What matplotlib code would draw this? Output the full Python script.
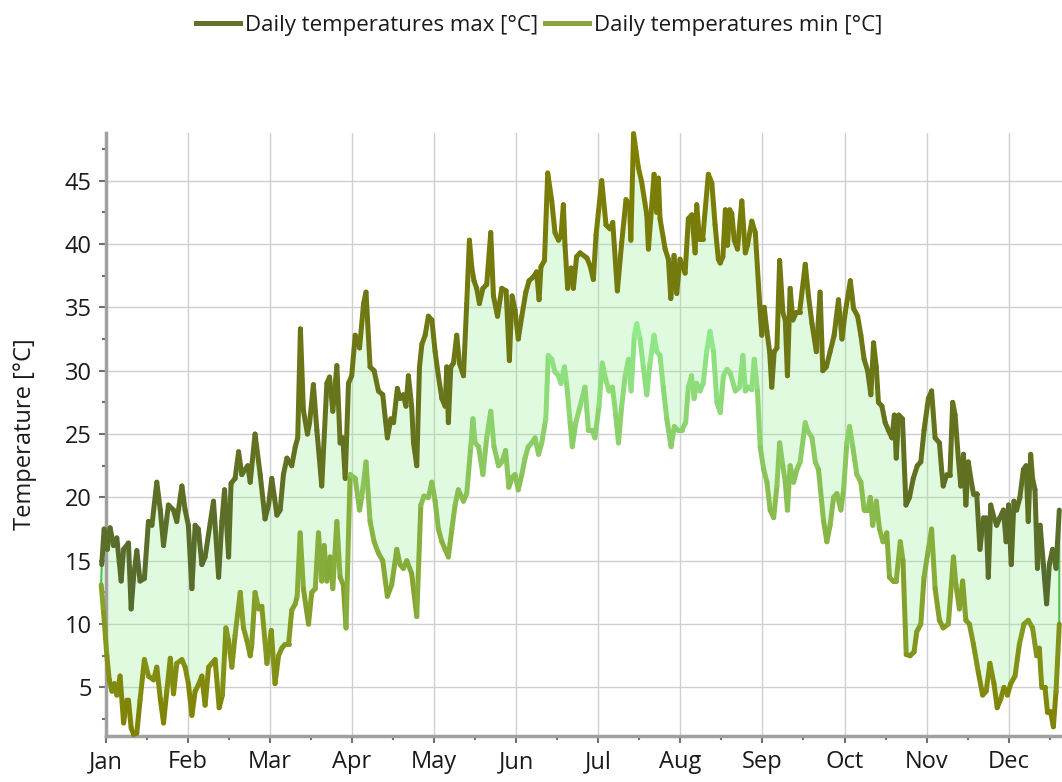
import numpy as np
import matplotlib
matplotlib.use("Agg")
import matplotlib.pyplot as plt
from matplotlib.collections import LineCollection
from matplotlib.colors import LinearSegmentedColormap, Normalize
from matplotlib.lines import Line2D

plt.rcParams['font.family'] = ['Open Sans', 'DejaVu Sans']

months = ["Jan", "Feb", "Mar", "Apr", "May", "Jun",
          "Jul", "Aug", "Sep", "Oct", "Nov", "Dec"]

# daily max (day of year, degC)
max_day = [0.2, 1.1, 2.3, 3.3, 4.6, 5.8, 7.4, 8.3, 10.1, 11.1, 12, 13.2, 14.4, 16, 17.5, 18.8, 20.6, 21.9, 23.1, 24.9,
           26.8, 28, 29.9, 31.1, 32.3, 33.6, 34.8, 36, 37.3, 38.5, 40.4, 41.6, 43.5, 44.7, 45.7, 47.2, 48.1, 49.6, 50.9, 52.1,
           53.3, 54.3, 55.2, 57, 58.9, 60.7, 62, 63.2, 65.1, 66.3, 67.5, 68.8, 70.6, 71.9, 72.8, 73.8, 74.9, 76.4, 77.2, 78.6,
           79.9, 81.7, 83.6, 84.6, 85.8, 87.3, 88.5, 89.5, 90.4, 91.6, 92.8, 94.1, 95.7, 97.2, 98.1, 99.6, 101.1, 102.7, 104.3, 106,
           107.3, 108.3, 109.7, 110.7, 111.9, 112.9, 113.8, 115, 115.7, 116.9, 117.9, 118.8, 120, 121.2, 122.5, 123.7, 124.9, 126.2, 127.4, 128,
           128.6, 129.5, 130.5, 131.7, 132.7, 134.2, 135.4, 136.4, 137.3, 138.1, 139.1, 140.1, 141.4, 142.8, 144.3, 145.3, 146.8, 148.4, 150, 151.2,
           152.2, 153.3, 154.5, 155.8, 157.3, 158.5, 160.1, 161.3, 162.2, 162.9, 164.2, 165.4, 166.9, 168.1, 169.4, 170.3, 171.2, 171.8, 172.8, 174.1,
           174.9, 176.1, 177.4, 179.9, 181.1, 182.3, 183.3, 185.4, 187, 188.5, 189.5, 191.2, 192.8, 194.4, 195.7, 196.2, 197.2, 199, 200.2, 202.1,
           202.7, 204.8, 205.8, 206.4, 207, 208.9, 210.1, 211, 212.2, 213.2, 214.4, 216.3, 217.5, 218.8, 220, 220.6, 221.6, 222.8, 224.9, 226.2,
           227.4, 228.6, 229.3, 230.3, 231.2, 232, 232.8, 233.6, 234.5, 235.7, 237.3, 238.6, 239.4, 241, 242.3, 243.9, 244.7, 245.6, 246.6, 247.6,
           248.4, 249.3, 250.3, 251.3, 252.5, 253.4, 254.2, 255.2, 256.2, 257.5, 258.7, 260.8, 262, 263.3, 264.9, 266.3, 267.3, 268.6, 270, 271.5,
           273.1, 274.4, 275.6, 277.5, 278.7, 280.2, 281.4, 282.6, 283.9, 285.1, 286.1, 287.1, 287.9, 289.2, 290.4, 291.6, 292.9, 293.8, 294.5, 295.4,
           296.8, 298.1, 299.4, 300.8, 302.3, 303.6, 304.8, 306.4, 307.6, 308.9, 310.5, 311.3, 311.9, 313.2, 314.4, 315.4, 316.3, 317.5, 318.4, 319.4,
           320.3, 321.2, 322.1, 323.1, 324.3, 325.5, 326.8, 327.8, 328.6, 329.5, 330.7, 331.7, 332.9, 334.2, 335.2, 336.1, 337.1, 338.1, 339.1, 340.3,
           341.6, 342.6, 343.4, 344.3, 345, 345.9, 346.8, 347.8, 349, 350.2, 351.2, 352.4, 353.7, 354.9]
max_val = [14.7, 17.5, 15.9, 17.6, 16.2, 16.8, 13.4, 15.9, 16.4, 11.2, 13.7, 15.8, 13.4, 13.6, 18.1, 17.8, 21.2, 19.0, 16.2, 19.4,
           19.0, 18.1, 20.9, 19.0, 17.8, 12.8, 17.8, 17.5, 14.7, 15.3, 18.0, 19.7, 13.7, 18.1, 20.6, 15.3, 21.1, 21.5, 23.6, 21.8,
           22.2, 22.5, 21.2, 25.0, 21.8, 18.3, 19.4, 21.5, 18.6, 19.0, 21.8, 23.1, 22.5, 24.0, 24.7, 33.3, 26.9, 25.0, 25.9, 28.9,
           25.3, 20.9, 29.0, 29.5, 26.8, 30.4, 24.3, 24.7, 21.5, 29.0, 29.6, 32.8, 31.8, 35.3, 36.2, 30.3, 30.0, 28.4, 28.1, 24.7,
           26.2, 25.9, 28.6, 27.8, 28.1, 27.2, 29.6, 27.2, 24.3, 22.5, 30.3, 32.1, 32.8, 34.3, 34.0, 31.5, 29.6, 27.8, 27.2, 30.3,
           25.9, 30.3, 30.6, 32.8, 30.6, 29.6, 35.3, 40.3, 38.1, 37.1, 36.5, 35.3, 36.5, 36.8, 40.9, 35.9, 34.3, 36.5, 36.3, 30.8,
           35.9, 34.8, 32.5, 34.3, 36.2, 37.1, 37.4, 37.8, 35.6, 38.2, 38.7, 45.6, 43.4, 40.9, 40.3, 40.6, 43.1, 39.9, 36.5, 38.1,
           36.5, 39.0, 39.3, 38.9, 38.3, 37.2, 40.7, 45.0, 41.5, 41.2, 41.7, 36.3, 40.1, 43.5, 43.1, 40.3, 48.7, 46.0, 44.9, 42.3,
           39.6, 45.5, 42.5, 45.2, 42.0, 39.6, 38.8, 35.7, 39.1, 36.1, 38.8, 37.7, 42.0, 42.3, 39.3, 43.1, 40.4, 40.4, 45.5, 44.8,
           41.5, 38.8, 38.5, 39.0, 42.7, 39.9, 42.7, 42.4, 40.3, 39.6, 43.4, 39.3, 39.9, 41.8, 40.9, 35.3, 32.8, 35.0, 33.1, 31.5,
           28.7, 31.5, 31.8, 38.7, 34.6, 34.0, 29.6, 36.5, 34.0, 34.6, 34.6, 38.4, 35.9, 33.7, 31.5, 36.2, 30.0, 30.3, 31.5, 32.8,
           35.6, 32.5, 34.6, 37.1, 34.9, 34.3, 32.8, 30.9, 30.0, 28.1, 32.2, 30.3, 27.5, 27.2, 25.9, 25.3, 24.7, 26.5, 23.1, 26.5,
           26.2, 19.4, 20.0, 21.5, 22.5, 22.8, 25.3, 27.8, 28.4, 24.7, 24.3, 22.2, 20.9, 21.8, 21.8, 27.5, 26.5, 23.1, 20.9, 23.4,
           19.4, 22.8, 21.5, 20.3, 20.3, 15.9, 18.4, 18.4, 13.7, 19.4, 18.4, 17.8, 18.4, 19.0, 16.5, 19.4, 14.7, 19.7, 19.0, 20.0,
           22.2, 22.5, 18.1, 23.4, 21.5, 20.6, 14.4, 17.8, 14.7, 11.6, 14.7, 15.9, 14.4, 19.0]

# daily min
min_day = [0, 0.9, 2.1, 3, 4, 4.9, 5.8, 7, 8.3, 9.5, 10.1, 11.1, 12, 13.2, 14.4, 16, 17.5, 19.4, 20.6, 21.9,
           23.1, 24.3, 25.6, 26.8, 28, 29.9, 31.1, 32.3, 33.6, 34.8, 36, 37.3, 38.5, 39.8, 41, 42.2, 43.7, 44.9, 46.2, 47.2,
           48.4, 49.6, 51.5, 52.7, 54, 55.2, 55.8, 57, 58.3, 59.5, 61.4, 63, 64.4, 65.7, 66.9, 68.1, 69.4, 70.6, 71.9, 72.6,
           73.7, 74.9, 76.8, 78, 79.3, 80.5, 81.7, 82.6, 83.6, 84.8, 85.8, 87.3, 88.5, 89.7, 90.7, 92.2, 94.1, 95.7, 96.5, 98.1,
           99.6, 101.1, 102.7, 104.3, 106, 107.6, 109.5, 110.7, 111.9, 113.2, 115, 116.9, 118.4, 119.6, 121.2, 122.5, 123.7, 124.9, 126.2, 127.4,
           128.6, 129.9, 131.1, 132.3, 134.2, 135.4, 136.9, 137.7, 138.5, 139.8, 141.4, 142.8, 144.3, 145.5, 147.2, 148.4, 149.8, 151, 152.3, 153.3,
           154.5, 155.8, 157, 158.2, 159.5, 160.7, 162, 163.2, 164.7, 165.6, 166.9, 168.1, 169.4, 170.3, 171.6, 172.4, 173.7, 174.5, 175.8, 177.4,
           179.2, 180.5, 181.9, 182.9, 184.4, 185.6, 186.9, 188.1, 189.4, 190.6, 191.6, 192.8, 194.1, 195.3, 196.3, 197.5, 198.4, 199.6, 200.8, 202.1,
           203.3, 204.8, 205.8, 207, 208.2, 209.5, 211.1, 212.3, 213.6, 215, 216.5, 217.5, 218.7, 219.6, 220.6, 221.8, 223, 224.3, 225.5, 226.8,
           228.1, 229.3, 230.5, 231.8, 233, 234.9, 236.5, 237.7, 238.6, 239.8, 241, 241.9, 243.1, 244.1, 245.4, 246.6, 247.8, 249.1, 250.3, 251.3,
           252.5, 253.4, 254.2, 255.2, 256.5, 257.7, 258.9, 260.8, 261.6, 263.3, 264.5, 265.7, 267.6, 268.8, 270, 271.3, 272.5, 274, 275, 276.2,
           277.2, 278.4, 279.9, 281.4, 282.6, 283.9, 284.9, 285.8, 287.1, 288.3, 289.6, 291, 292, 293.3, 294.5, 296, 297, 298.2, 299.6, 301.1,
           302.1, 303.6, 304.8, 306.4, 307.6, 308.9, 310.5, 311.9, 313.8, 315.7, 316.6, 317.9, 319.1, 320.3, 321.6, 323.1, 324.9, 326.5, 327.8, 329.2,
           330.7, 331.9, 333.2, 334.4, 335.7, 336.9, 338.5, 340.1, 341.8, 343.4, 345, 346.5, 347.5, 348.4, 349.6, 350.5, 351.7, 352.7, 353.7, 354.9]
min_val = [13.1, 10.9, 7.5, 5.6, 4.7, 5.3, 4.4, 5.9, 2.2, 4.0, 4.0, 1.8, 1.3, 1.4, 4.0, 7.2, 5.9, 5.6, 6.6, 4.1,
           2.2, 4.7, 7.3, 4.5, 6.9, 7.2, 6.6, 5.3, 2.8, 4.7, 5.2, 5.9, 3.6, 6.6, 6.9, 7.2, 3.4, 4.4, 9.7, 8.7,
           6.6, 9.1, 12.5, 9.7, 8.7, 7.5, 8.4, 12.5, 11.2, 11.4, 6.9, 9.5, 5.3, 7.5, 8.1, 8.4, 8.4, 11.1, 11.6, 12.2,
           17.2, 12.8, 10.0, 12.5, 12.8, 17.2, 13.4, 16.2, 13.4, 15.3, 12.8, 18.1, 13.7, 13.1, 9.7, 21.8, 21.5, 19.0, 20.0, 22.8,
           18.1, 16.5, 15.6, 15.0, 12.2, 13.1, 15.9, 14.7, 14.4, 15.0, 14.0, 10.6, 19.4, 20.1, 20.0, 21.2, 19.7, 17.5, 16.5, 15.9,
           15.3, 17.5, 19.4, 20.6, 19.7, 20.3, 24.0, 26.2, 24.3, 24.0, 21.8, 24.7, 26.8, 24.0, 22.5, 22.8, 23.7, 20.8, 21.6, 21.8,
           20.6, 21.8, 23.1, 24.0, 24.3, 24.7, 23.4, 24.3, 26.2, 31.2, 30.9, 29.9, 29.6, 29.0, 30.3, 29.0, 25.9, 24.0, 25.9, 27.2,
           28.7, 25.3, 25.3, 24.7, 27.2, 30.6, 29.3, 28.4, 28.7, 26.5, 24.3, 27.2, 29.6, 30.9, 28.4, 32.8, 33.7, 32.5, 30.3, 28.1,
           30.6, 32.8, 31.5, 31.2, 28.7, 26.2, 24.0, 25.6, 25.3, 25.3, 25.9, 28.7, 29.6, 27.8, 29.0, 28.4, 29.0, 31.5, 33.1, 31.5,
           27.5, 26.7, 29.6, 30.1, 29.8, 28.4, 28.7, 31.2, 28.4, 28.7, 28.5, 30.9, 28.4, 24.0, 22.2, 21.2, 19.0, 18.4, 20.9, 24.3,
           22.5, 21.2, 19.0, 22.5, 21.2, 22.2, 22.8, 25.9, 25.3, 24.7, 22.8, 22.2, 18.1, 16.5, 17.8, 20.0, 20.3, 19.0, 20.6, 24.3,
           25.6, 24.0, 21.8, 21.2, 19.0, 19.0, 20.0, 17.8, 19.7, 17.5, 16.5, 17.2, 13.7, 13.4, 13.4, 16.5, 15.0, 7.6, 7.5, 7.8,
           9.4, 10.0, 13.7, 15.9, 17.5, 12.8, 10.3, 9.7, 10.0, 15.3, 13.1, 11.2, 13.4, 10.3, 10.0, 8.4, 6.2, 4.4, 4.7, 6.9,
           5.3, 3.4, 4.1, 5.0, 4.4, 5.3, 5.9, 8.4, 10.0, 10.3, 9.7, 7.5, 8.1, 5.0, 5.0, 3.1, 3.1, 1.9, 4.7, 10.0]

max_day = np.array(max_day)
max_val = np.array(max_val)
min_day = np.array(min_day)
min_val = np.array(min_val)

month_pos = 1.6 + 365 / 12 * np.arange(12)

fig = plt.figure(figsize=(10.62, 7.82), dpi=100)
ax = fig.add_axes([105.5 / 1062, 1 - 736 / 782, 1 - 105.5 / 1062, (736 - 133) / 782])

# band between the two series
band_x = np.concatenate([max_day, min_day[::-1]])
band_y = np.concatenate([max_val, min_val[::-1]])
ax.fill(band_x, band_y, facecolor=(144/255, 238/255, 144/255, 0.27),
        edgecolor="#4cc04c", linewidth=1.5, zorder=2, clip_on=False)


def gradient_line(x, y, c_lo, c_hi, lo, hi):
    pts = np.column_stack([x, y]).reshape(-1, 1, 2)
    segs = np.concatenate([pts[:-1], pts[1:]], axis=1)
    cmap = LinearSegmentedColormap.from_list("g", [c_lo, c_hi])
    lc = LineCollection(segs, cmap=cmap, norm=Normalize(lo, hi),
                        linewidth=3.6, capstyle="round", joinstyle="round",
                        zorder=3, clip_on=False)
    lc.set_array((y[:-1] + y[1:]) / 2)
    ax.add_collection(lc)


gradient_line(max_day, max_val, "#556B2F", "#808000", 12, 48)
gradient_line(min_day, min_val, "#808000", "#90EE90", 2, 34)

ax.set_xlim(1.6, 355.9)
ax.set_ylim(1.17, 48.76)

ax.set_xticks(month_pos)
ax.set_xticklabels(months)
ax.set_xticks(month_pos + 365 / 24, minor=True)
ax.set_yticks(np.arange(5, 46, 5))
ax.set_yticks(np.arange(2.5, 48, 5), minor=True)

ax.grid(True, which="major", color="#cfcfcf", linewidth=1.0, zorder=0)
ax.set_axisbelow(True)
for s in ["top", "right"]:
    ax.spines[s].set_visible(False)
for s in ["left", "bottom"]:
    ax.spines[s].set_color("#a0a0a0")
    ax.spines[s].set_linewidth(2.5)

ax.tick_params(which="major", length=5, width=1.5, color="#707070",
               labelsize=17, labelcolor="#1a1a1a")
ax.tick_params(which="minor", length=3, width=1.5, color="#707070")
ax.tick_params(axis="y", pad=5)
ax.tick_params(axis="x", pad=5)

ax.set_ylabel("Temperature [°C]", fontsize=17, color="#1a1a1a")
ax.yaxis.set_label_coords(-0.072, 0.5)

handles = [Line2D([], [], color="#62702a", lw=3.6),
           Line2D([], [], color="#8aa63c", lw=3.6)]
fig.legend(handles, ["Daily temperatures max [°C]", "Daily temperatures min [°C]"],
           loc="center", bbox_to_anchor=(539 / 1062, 1 - 25 / 782), ncol=2, frameon=False,
           fontsize=16, handlelength=2.0, handletextpad=0.2, columnspacing=0.3,
           labelcolor="#1a1a1a")

fig.savefig("out.png", dpi=100)
